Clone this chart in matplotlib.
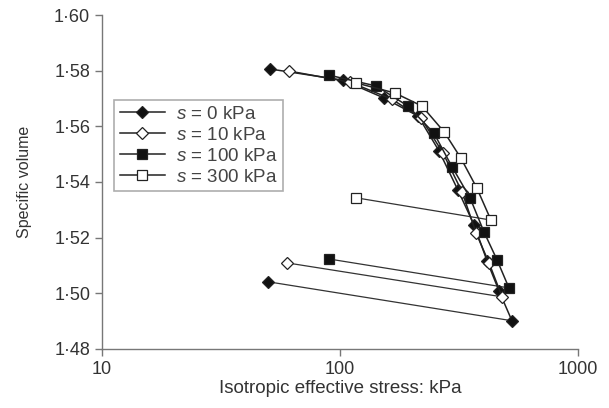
import matplotlib
matplotlib.use("Agg")
import matplotlib.pyplot as plt
from matplotlib.ticker import FixedLocator, FuncFormatter, NullLocator

plt.rcParams['font.family'] = ['Liberation Sans', 'DejaVu Sans']
plt.rcParams['mathtext.fontset'] = 'custom'
plt.rcParams['mathtext.it'] = 'Liberation Sans:italic'
plt.rcParams['mathtext.rm'] = 'Liberation Sans'

# loading paths (stress kPa, specific volume), last point is the unloading end
p_s0 = [51, 103, 153, 213, 261, 313, 366, 415, 466, 528, 50]
v_s0 = [1.5806, 1.5766, 1.5702, 1.5637, 1.5511, 1.5371, 1.5246, 1.5116, 1.5008, 1.4901, 1.5041]

p_s10 = [61, 110, 165, 219, 271, 326, 373, 423, 480, 60]
v_s10 = [1.5799, 1.5759, 1.5698, 1.5630, 1.5504, 1.5364, 1.5217, 1.5109, 1.4987, 1.5109]

p_s100 = [90, 142, 193, 248, 296, 352, 403, 457, 513, 90]
v_s100 = [1.5784, 1.5745, 1.5673, 1.5576, 1.5454, 1.5343, 1.5220, 1.5120, 1.5019, 1.5123]

p_s300 = [117, 170, 221, 274, 322, 376, 431, 117]
v_s300 = [1.5756, 1.5720, 1.5673, 1.5580, 1.5486, 1.5378, 1.5263, 1.5343]

labels = ["$s$ = 0 kPa", "$s$ = 10 kPa", "$s$ = 100 kPa", "$s$ = 300 kPa"]
markers = ["D", "D", "s", "s"]
faces = ["#111111", "white", "#111111", "white"]
sizes = [6, 6, 7.5, 7.5]

fig = plt.figure(figsize=(6.09, 4.08), dpi=100)
ax = fig.add_axes([0.1675, 0.145, 0.7815, 0.818])

series = [(p_s0, v_s0), (p_s10, v_s10), (p_s100, v_s100), (p_s300, v_s300)]
for (p, v), lab, m, fc, ms in zip(series, labels, markers, faces, sizes):
    # unloading line first, thinner
    ax.plot(p[-2:], v[-2:], color="#333333", lw=0.9, zorder=2)
    ax.plot(p[:-1], v[:-1], color="#222222", lw=1.1, marker=m, ms=ms,
            mfc=fc, mec="#222222", mew=0.9, label=lab, zorder=3)
    ax.plot(p[-1:], v[-1:], ls="none", marker=m, ms=ms, mfc=fc,
            mec="#222222", mew=0.9, zorder=3)

ax.set_xscale("log")
ax.set_xlim(10, 1000)
ax.set_ylim(1.48, 1.60)
ax.xaxis.set_major_locator(FixedLocator([10, 100, 1000]))
ax.xaxis.set_minor_locator(NullLocator())
ax.xaxis.set_major_formatter(FuncFormatter(lambda x, pos: f"{x:.0f}"))
ax.yaxis.set_major_locator(FixedLocator([1.48, 1.50, 1.52, 1.54, 1.56, 1.58, 1.60]))
ax.yaxis.set_major_formatter(FuncFormatter(lambda y, pos: f"{y:.2f}".replace(".", "\u00b7")))

for side in ["top", "right"]:
    ax.spines[side].set_visible(False)
for side in ["left", "bottom"]:
    ax.spines[side].set_color("#777777")
    ax.spines[side].set_linewidth(1.0)
ax.tick_params(direction="out", length=5, width=1, color="#777777",
               labelcolor="#333333", labelsize=13)

ax.set_xlabel("Isotropic effective stress: kPa", fontsize=13.5, color="#333333", labelpad=2)
ax.set_ylabel("Specific volume", fontsize=11.5, color="#333333", labelpad=16)

leg = ax.legend(loc="upper left", bbox_to_anchor=(0.025, 0.745), borderaxespad=0,
                fontsize=13.5, frameon=True, fancybox=False, handlelength=2.4,
                handletextpad=0.6, labelspacing=0.2, borderpad=0.3)
leg.get_frame().set_edgecolor("#999999")
leg.get_frame().set_linewidth(1.2)
for t in leg.get_texts():
    t.set_color("#444444")

fig.savefig("out.png", dpi=100)
